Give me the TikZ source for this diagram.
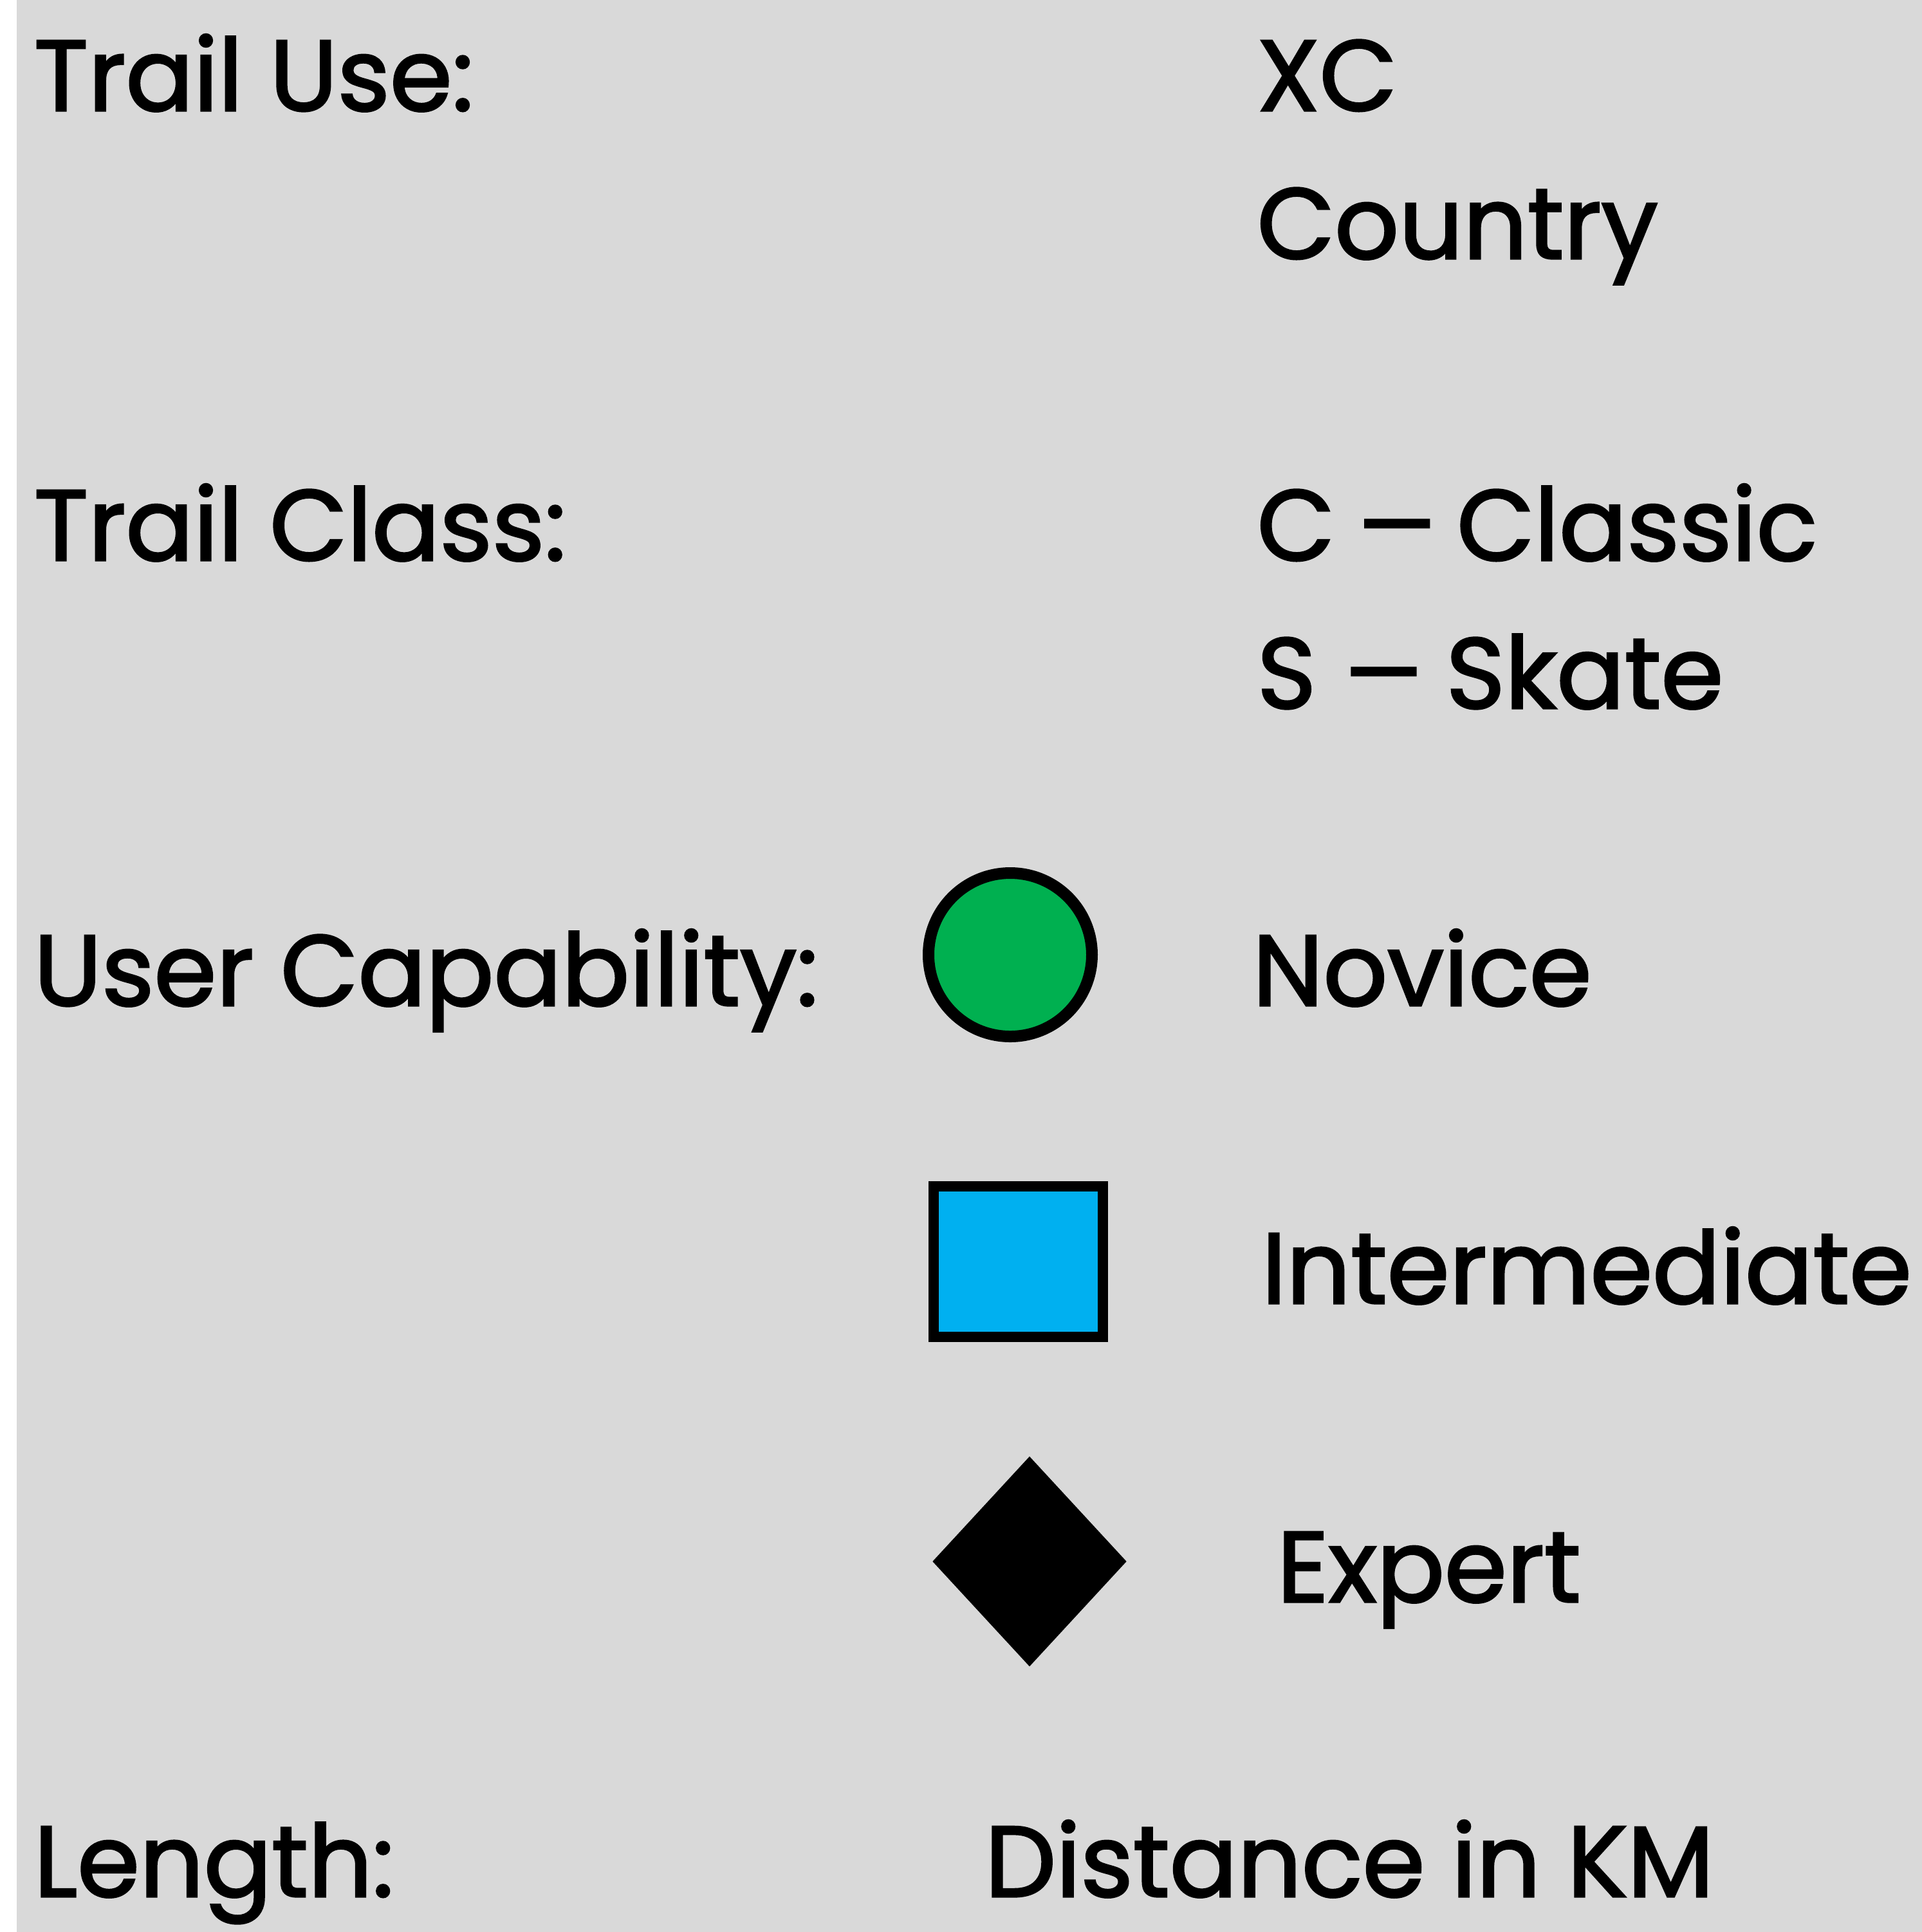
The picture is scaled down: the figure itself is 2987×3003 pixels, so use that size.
\documentclass[tikz,border=0pt]{standalone}
\usepackage{fontspec}
\setmainfont{Poppins}[FakeBold=2]
\usetikzlibrary{shapes.geometric}
\definecolor{panelgray}{HTML}{D9D9D9}
\definecolor{novicegreen}{HTML}{00B050}
\definecolor{interblue}{HTML}{00B0F0}
\begin{document}
\begin{tikzpicture}[x=0.25pt,y=-0.25pt,
  txt/.style={anchor=base west,inner sep=0pt,font=\fontsize{39}{47}\selectfont}]
\useasboundingbox (0,0) rectangle (2987,3003);
\fill[panelgray] (26,0) rectangle (2987,3003);
% headings on the left
\node[txt] (use) at (52,172) {Trail Use:};
\node[txt] (class) at (52,871) {Trail Class:};
\node[txt] (capab) at (52,1563) {User Capability:};
\node[txt] (length) at (52,2948) {Length:};
% values on the right
\node[txt] (xc) at (1953,172) {XC};
\node[txt] (country) at (1953,402) {Country};
\node[txt] (classic) at (1953,871) {C\hspace{-2pt} \scalebox{1.2}[1]{–}\hspace{-3pt} Classic};
\node[txt] (skate) at (1953,1101) {S \scalebox{1.2}[1]{–}\hspace{-2pt} Skate};
\node[txt] (novice) at (1946,1563) {Novice};
\node[txt] (inter) at (1960,2026) {Intermediate};
\node[txt] (expert) at (1984,2490) {Expert};
\node[txt] (dist) at (1530,2948) {Distance in KM};
% symbols
\node[circle,draw=black,line width=4.5pt,fill=novicegreen,minimum size=63.5pt,inner sep=0pt] (circ) at (1570,1484) {};
\node[rectangle,draw=black,line width=4pt,fill=interblue,minimum width=65.75pt,minimum height=58.5pt,inner sep=0pt] (sq) at (1582,1961) {};
\node[diamond,fill=black,minimum width=75.5pt,minimum height=81.75pt,inner sep=0pt] (dia) at (1600,2427) {};
\end{tikzpicture}
\end{document}
